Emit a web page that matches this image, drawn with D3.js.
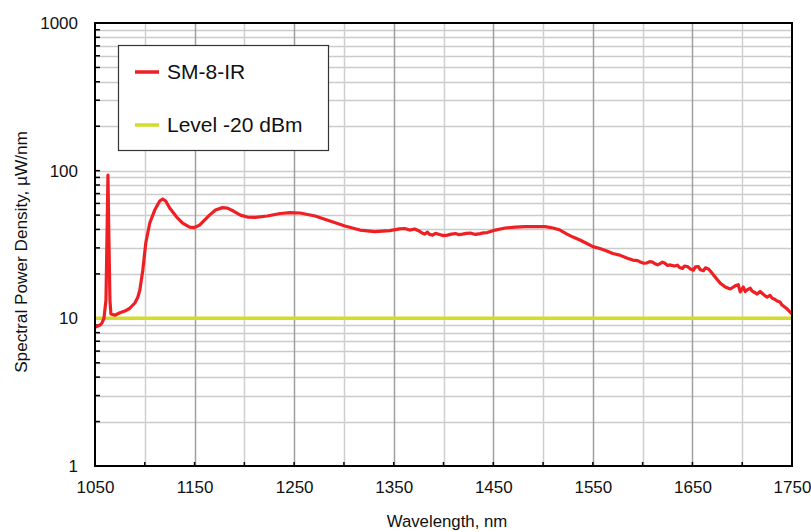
<!DOCTYPE html>
<head>
  <meta charset='utf-8'>
  <script src='https://d3js.org/d3.v7.min.js'></script>
  <style>
    body { margin: 0; background: #fff; }
    text { font-family: 'Liberation Sans', Arial, sans-serif; fill: #111; }
  </style>
</head>
<body>
<script>
// spectrum: [wavelength nm, density uW/nm]
const spectrum = [
  [1050, 8.7], [1055, 9.0], [1057, 9.3], [1059, 10.0], [1061, 13.3], [1062, 33.9], [1063, 93.4],
  [1064, 33.9], [1065, 13.3], [1066, 10.7], [1070, 10.5], [1075, 10.9], [1080, 11.2], [1085, 11.7],
  [1090, 12.7], [1093, 13.9], [1095, 15.5], [1098, 21.2], [1101, 32.4], [1105, 44.2], [1110, 54.1],
  [1115, 62.3], [1118, 64.3], [1121, 62.3], [1125, 55.8], [1132, 48.5], [1138, 44.2], [1145, 41.5],
  [1150, 41.2], [1155, 42.8], [1160, 46.3], [1165, 50.0], [1171, 54.1], [1178, 56.2], [1183, 55.8],
  [1189, 53.3], [1196, 50.0], [1203, 48.5], [1211, 48.3], [1223, 49.3], [1236, 51.3], [1246, 52.0],
  [1256, 51.7], [1271, 49.3], [1286, 45.6], [1301, 42.2], [1316, 39.6], [1331, 38.7], [1346, 39.3],
  [1356, 40.3], [1361, 40.6], [1366, 39.6], [1371, 40.3], [1376, 38.9], [1378, 38.0], [1381, 37.2],
  [1384, 38.3], [1386, 37.0], [1389, 36.6], [1392, 37.6], [1396, 37.0], [1400, 36.3], [1404, 36.6],
  [1408, 37.2], [1412, 37.5], [1415, 36.9], [1419, 37.2], [1423, 37.6], [1427, 37.8], [1432, 37.0],
  [1437, 37.5], [1440, 37.9], [1444, 38.1], [1452, 39.6], [1462, 40.9], [1472, 41.5], [1482, 41.8],
  [1492, 41.8], [1502, 41.8], [1510, 40.9], [1517, 39.6], [1524, 37.2], [1530, 35.5], [1537, 33.9],
  [1544, 32.1], [1550, 30.6], [1557, 29.7], [1564, 28.6], [1570, 27.5], [1577, 26.8], [1584, 25.6],
  [1590, 24.8], [1595, 24.6], [1597, 24.2], [1601, 23.6], [1604, 23.7], [1607, 24.2], [1610, 24.0],
  [1612, 23.5], [1615, 23.0], [1617, 23.4], [1620, 24.0], [1622, 23.7], [1625, 22.8], [1627, 23.0],
  [1632, 22.6], [1635, 22.9], [1637, 22.1], [1640, 21.8], [1642, 22.6], [1645, 22.4], [1648, 21.6],
  [1651, 21.2], [1653, 22.3], [1656, 22.4], [1658, 21.3], [1661, 21.0], [1663, 22.0], [1666, 21.6],
  [1668, 20.9], [1673, 19.0], [1678, 17.3], [1683, 16.3], [1688, 15.8], [1693, 16.6], [1696, 16.9],
  [1698, 15.1], [1701, 16.3], [1703, 15.2], [1705, 15.6], [1708, 16.0], [1710, 15.3], [1713, 14.9],
  [1715, 14.6], [1718, 15.2], [1720, 14.8], [1723, 14.2], [1725, 13.9], [1728, 14.3], [1730, 13.7],
  [1733, 13.4], [1735, 13.1], [1738, 12.9], [1740, 12.3], [1745, 11.6], [1750, 10.7]
];
const levelValue = 10;
const seriesNames = ['SM-8-IR', 'Level -20 dBm'];
const seriesColors = ['#ee2024', '#d2dc2a'];
const xTicks = [1050, 1150, 1250, 1350, 1450, 1550, 1650, 1750];
const xGrid = d3.range(1050, 1751, 50);
const yTicks = [1, 10, 100, 1000];

const width = 811, height = 532;
const margin = {top: 23, right: 19, bottom: 66, left: 95};
const iw = width - margin.left - margin.right;
const ih = height - margin.top - margin.bottom;

const svg = d3.select('body').append('svg').attr('width', width).attr('height', height);
const g = svg.append('g').attr('transform', `translate(${margin.left},${margin.top})`);

const x = d3.scaleLinear().domain([1050, 1750]).range([0, iw]);
const y = d3.scaleLog().domain([1, 1000]).range([ih, 0]);

// minor values of the log axis
const yMinor = [];
[1, 10, 100].forEach(d => { for (let k = 2; k <= 9; k++) yMinor.push(d * k); });

// grid
g.append('g').selectAll('line').data(yMinor.concat([10, 100])).enter().append('line')
  .attr('x1', 0).attr('x2', iw)
  .attr('y1', d => Math.round(y(d)) + 0.5).attr('y2', d => Math.round(y(d)) + 0.5)
  .attr('stroke', '#cbcbcb').attr('stroke-width', 1.5);

g.append('g').selectAll('line').data(xGrid.slice(1, -1)).enter().append('line')
  .attr('x1', d => Math.round(x(d)) + 0.5).attr('x2', d => Math.round(x(d)) + 0.5)
  .attr('y1', 0).attr('y2', ih)
  .attr('stroke', d => xTicks.includes(d) ? '#a0a0a0' : '#cfcfcf').attr('stroke-width', 1.5);

// inner ticks
g.append('g').selectAll('line').data(xGrid).enter().append('line')
  .attr('x1', d => x(d)).attr('x2', d => x(d))
  .attr('y1', ih).attr('y2', ih - 4)
  .attr('stroke', '#000').attr('stroke-width', 1.5);

g.append('g').selectAll('line').data(yMinor.concat(yTicks)).enter().append('line')
  .attr('x1', 0).attr('x2', 5)
  .attr('y1', d => y(d)).attr('y2', d => y(d))
  .attr('stroke', '#000').attr('stroke-width', 1.5);

// axes labels
const xAxis = g.append('g').attr('transform', `translate(0,${ih})`)
  .call(d3.axisBottom(x).tickValues(xTicks).tickSize(0).tickPadding(15).tickFormat(d3.format('d')));
xAxis.select('.domain').remove();
xAxis.selectAll('text').attr('font-size', 17).attr('fill', '#111');

const yAxis = g.append('g')
  .call(d3.axisLeft(y).tickValues(yTicks).tickSize(0).tickPadding(17).tickFormat(d3.format('d')));
yAxis.select('.domain').remove();
yAxis.selectAll('text').attr('font-size', 17).attr('fill', '#111');

// series
g.append('line')
  .attr('x1', 0).attr('x2', iw)
  .attr('y1', y(levelValue)).attr('y2', y(levelValue))
  .attr('stroke', seriesColors[1]).attr('stroke-width', 3.5);

g.append('path')
  .datum(spectrum)
  .attr('fill', 'none')
  .attr('stroke', seriesColors[0])
  .attr('stroke-width', 3.2)
  .attr('stroke-linejoin', 'round')
  .attr('d', d3.line().x(d => x(d[0])).y(d => y(d[1])));

// frame
g.append('rect').attr('width', iw).attr('height', ih)
  .attr('fill', 'none').attr('stroke', '#000').attr('stroke-width', 2);

// legend
const lg = g.append('g').attr('transform', `translate(${118 - margin.left},${45 - margin.top})`);
lg.append('rect').attr('x', 0.5).attr('y', 0.5).attr('width', 210).attr('height', 105)
  .attr('fill', '#fff').attr('stroke', '#333').attr('stroke-width', 1.2);
const items = lg.selectAll('g.item').data(seriesNames).enter().append('g')
  .attr('transform', (d, i) => `translate(0,${27 + i * 53})`);
items.append('line').attr('x1', 17).attr('x2', 41)
  .attr('stroke', (d, i) => seriesColors[i]).attr('stroke-width', 3.5);
items.append('text').attr('x', 49).attr('y', 0).attr('dy', '0.35em')
  .attr('font-size', 21).text(d => d);

// titles
svg.append('text')
  .attr('x', 447).attr('y', 527)
  .attr('text-anchor', 'middle').attr('font-size', 16.8)
  .text('Wavelength, nm');

svg.append('text')
  .attr('transform', 'translate(27,252) rotate(-90)')
  .attr('text-anchor', 'middle').attr('font-size', 17.2)
  .text('Spectral Power Density, µW/nm');
</script>
</body>
